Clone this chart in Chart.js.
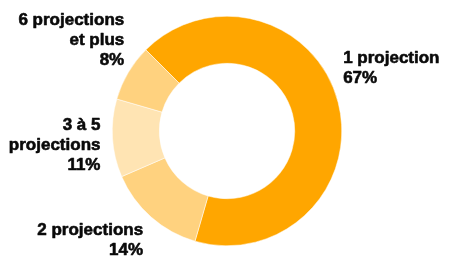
<!DOCTYPE html>
<html>
<head>
<meta charset="utf-8">
<script src="https://cdn.jsdelivr.net/npm/chart.js@4"></script>
<style>
html,body{margin:0;padding:0;background:#fff;}
#wrap{width:449px;height:257px;}
</style>
</head>
<body>
<div id="wrap"><canvas id="c" width="449" height="257"></canvas></div>
<script>
const categories = ["1 projection", "2 projections", "3 à 5 projections", "6 projections et plus"];
const labelLines = [["1 projection"], ["2 projections"], ["3 à 5", "projections"], ["6 projections", "et plus"]];
const values = [67, 14, 11, 8];
const percentLabels = ["67%", "14%", "11%", "8%"];
const colors = ["#FFA600", "#FFD27F", "#FFE4B3", "#FFD27F"];

// label placement: offset from the outer midpoint of each arc, and text alignment
const labelOffsets = [{dx: 5, dy: -34, align: "left"}, {dx: -8, dy: 23, align: "right"}, {dx: -12, dy: 7, align: "right"}, {dx: -4, dy: -32, align: "right"}];

const labelPlugin = {
  id: "outLabels",
  afterDatasetsDraw(chart) {
    const ctx = chart.ctx;
    const meta = chart.getDatasetMeta(0);
    ctx.save();
    ctx.font = "bold 17px 'Liberation Sans', Arial, sans-serif";
    ctx.fillStyle = "#0a0a0a";
    ctx.strokeStyle = "#0a0a0a";
    ctx.lineWidth = 0.6;
    ctx.lineJoin = "round";
    ctx.textBaseline = "middle";
    meta.data.forEach((arc, i) => {
      const p = arc.getProps(["x", "y", "startAngle", "endAngle", "outerRadius"], true);
      const mid = (p.startAngle + p.endAngle) / 2;
      const ax = p.x + Math.cos(mid) * p.outerRadius;
      const ay = p.y + Math.sin(mid) * p.outerRadius;
      const o = labelOffsets[i];
      const lines = labelLines[i].concat([percentLabels[i]]);
      const lh = 20;
      const cx = ax + o.dx;
      const cy = ay + o.dy;
      ctx.textAlign = o.align;
      lines.forEach((t, k) => {
        const y = cy + (k - (lines.length - 1) / 2) * lh;
        ctx.fillText(t, cx, y);
        ctx.strokeText(t, cx, y);
      });
    });
    ctx.restore();
  }
};

new Chart(document.getElementById("c"), {
  type: "doughnut",
  data: {
    labels: categories,
    datasets: [{
      data: values,
      backgroundColor: colors,
      borderColor: "#ffffff",
      borderWidth: 0.5,
      hoverOffset: 0
    }]
  },
  options: {
    responsive: false,
    devicePixelRatio: 1,
    animation: false,
    rotation: -45,
    cutout: "59%",
    layout: {padding: {top: 16, bottom: 11, left: 5, right: 0}},
    plugins: {legend: {display: false}, tooltip: {enabled: false}}
  },
  plugins: [labelPlugin]
});
</script>
</body>
</html>
